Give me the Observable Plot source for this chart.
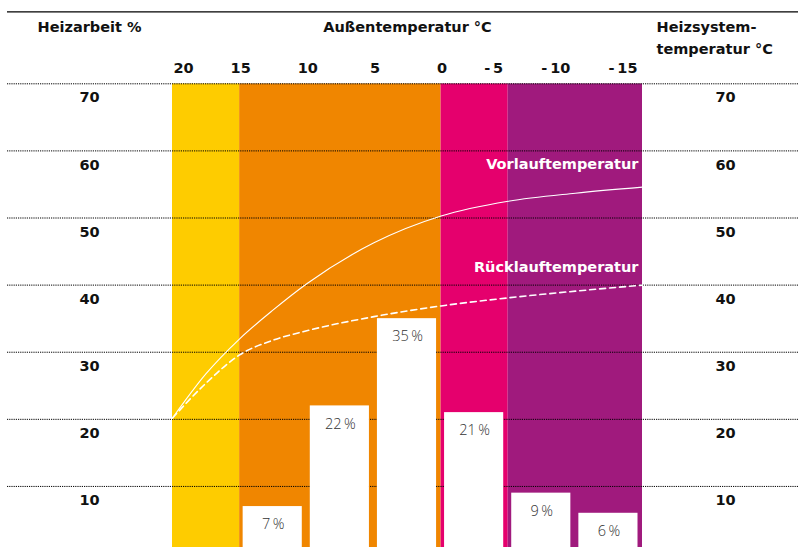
<!DOCTYPE html>
<html><head><meta charset="utf-8">
<script src="https://cdn.jsdelivr.net/npm/d3@7"></script>
<script src="https://cdn.jsdelivr.net/npm/@observablehq/plot@0.6"></script>
<style>
html,body{margin:0;padding:0;background:#fff;overflow:hidden}
#chart svg{display:block}
</style></head><body><div id="chart"></div>
<script>
// Outdoor temperature bands (°C)
const bandFrom = [20, 15, 0, -5];
const bandTo = [15, 0, -5, -15];
const bandColors = ["#FECC00", "#F08600", "#E5006D", "#A01A7D"];
// Heating work share per 5 °C bin
const binFrom = [15, 10, 5, 0, -5, -10];
const binTo = [10, 5, 0, -5, -10, -15];
const heatShare = [7, 22, 35, 21, 9, 6];
// Heating system temperatures (°C)
const curveTemps = [20, 17.5, 15, 12.5, 10, 5, 0, -5, -10, -15];
const vorlauf = [20.2, 26.8, 32.0, 36.3, 40.2, 46.3, 50.3, 52.5, 53.7, 54.6];
const ruecklauf = [20.2, 25.4, 29.6, 31.8, 33.2, 35.3, 36.9, 38.1, 39.1, 40.0];
// Tick labels
const tempTicks = [20, 15, 10, 5, 0, -5, -10, -15];
const tempTickLabels = ["20", "15", "10", "5", "0", "-\u20095", "-\u200910", "-\u200915"];
const valueTicks = [70, 60, 50, 40, 30, 20, 10];

const bands = bandFrom.map((f, i) => ({from: f, to: bandTo[i], color: bandColors[i]}));
const bars = binFrom.map((f, i) => ({from: f, to: binTo[i], value: heatShare[i]}));
const curves = curveTemps.map((t, i) => ({t, vor: vorlauf[i], rueck: ruecklauf[i]}));
const ticks = tempTicks.map((t, i) => ({t, label: tempTickLabels[i]}));
const lastIdx = curveTemps.length - 1;

const FONT = "DejaVu Sans";
const bold = {fontFamily: FONT, fontWeight: "bold", fontSize: 14.5, fill: "#111"};

const chart = Plot.plot({
  width: 798,
  height: 547,
  marginLeft: 172,
  marginRight: 156,
  marginTop: 83.3,
  marginBottom: 0,
  x: {domain: [20, -15], axis: null},
  y: {domain: [0.9, 70], axis: null},
  style: {fontFamily: FONT, background: "#fff", overflow: "hidden"},
  marks: [
    Plot.rect(bands, {x1: "from", x2: "to", y1: 0, y2: 70, fill: "color", clip: true}),
    // dotted grid lines across the whole width
    Plot.ruleY(valueTicks, {stroke: "#000", strokeWidth: 1, strokeDasharray: "1.2,1", insetLeft: -165, insetRight: -156}),
    // solid top rule
    Plot.ruleY([70], {stroke: "#000", strokeWidth: 1.2, dy: -72, insetLeft: -165, insetRight: -156}),
    // bars
    Plot.rect(bars, {x1: "from", x2: "to", y1: 0, y2: "value", fill: "#fff", insetLeft: 3.5, insetRight: 4.5, clip: true}),
    Plot.text(bars, {x: d => (d.from + d.to) / 2, y: "value", text: d => d.value + "\u2009%", dy: 18, fill: "#333", fontFamily: "Open Sans", fontWeight: 300, fontSize: 14.5}),
    // curves
    Plot.line(curves, {x: "t", y: "vor", stroke: "#fff", strokeWidth: 1.1, curve: "monotone-x"}),
    Plot.line(curves, {x: "t", y: "rueck", stroke: "#fff", strokeWidth: 1.6, strokeDasharray: "6,4", curve: "monotone-x"}),
    Plot.text([curves[lastIdx]], {x: "t", y: "vor", text: () => "Vorlauftemperatur", textAnchor: "end", dx: -4, dy: -23, fill: "#fff", fontFamily: FONT, fontWeight: "bold", fontSize: 14.5}),
    Plot.text([curves[lastIdx]], {x: "t", y: "rueck", text: () => "Rücklauftemperatur", textAnchor: "end", dx: -4, dy: -18, fill: "#fff", fontFamily: FONT, fontWeight: "bold", fontSize: 14.5}),
    // top temperature tick labels
    Plot.text(ticks.filter(d => d.t === 20), {x: "t", frameAnchor: "top", text: "label", textAnchor: "start", dx: 1, dy: -21, ...bold}),
    Plot.text(ticks.filter(d => d.t < 20 && d.t >= 0), {x: "t", frameAnchor: "top", text: "label", textAnchor: "middle", dx: 1, dy: -21, ...bold}),
    Plot.text(ticks.filter(d => d.t < 0), {x: "t", frameAnchor: "top", text: "label", textAnchor: "end", dx: -5, dy: -21, ...bold}),
    // left and right value labels
    Plot.text(valueTicks, {y: d => d, frameAnchor: "left", text: d => String(d), textAnchor: "middle", dx: -83, dy: 14, ...bold}),
    Plot.text(valueTicks, {y: d => d, frameAnchor: "right", text: d => String(d), textAnchor: "middle", dx: 83, dy: 14, ...bold}),
    // headers
    Plot.text(["Heizarbeit %"], {frameAnchor: "top-left", text: d => d, textAnchor: "start", dx: -135, dy: -62, ...bold}),
    Plot.text(["Außentemperatur °C"], {frameAnchor: "top", text: d => d, textAnchor: "middle", dy: -62, ...bold}),
    Plot.text(["Heizsystem-\ntemperatur °C"], {frameAnchor: "top-right", text: d => d, textAnchor: "start", lineAnchor: "top", lineHeight: 1.5, dx: 14, dy: -67, ...bold})
  ]
});
document.getElementById("chart").append(chart);
</script></body></html>
